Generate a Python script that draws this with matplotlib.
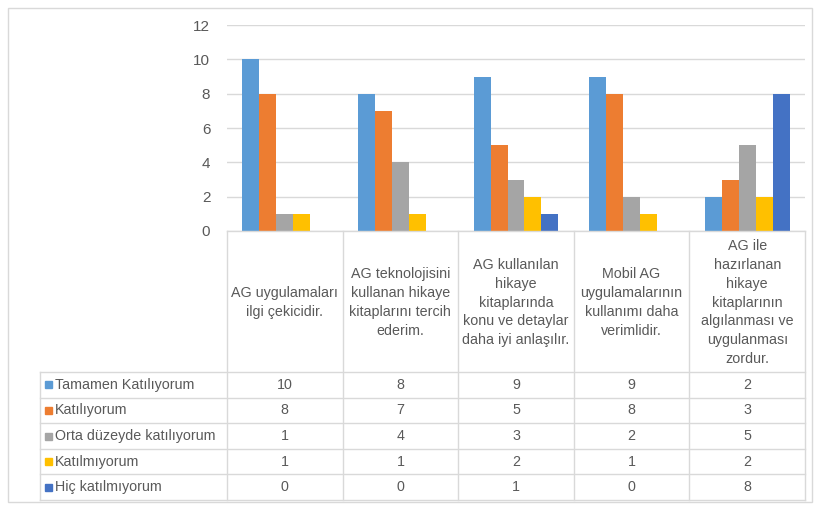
import matplotlib.pyplot as plt
from matplotlib import font_manager
from matplotlib.patches import Rectangle

categories = ['AG uygulamaları\nilgi çekicidir.',
              'AG teknolojisini\nkullanan hikaye\nkitaplarını tercih\nederim.',
              'AG kullanılan\nhikaye\nkitaplarında\nkonu ve detaylar\ndaha iyi anlaşılır.',
              'Mobil AG\nuygulamalarının\nkullanımı daha\nverimlidir.',
              'AG ile\nhazırlanan\nhikaye\nkitaplarının\nalgılanması ve\nuygulanması\nzordur.']
series = ['Tamamen Katılıyorum', 'Katılıyorum', 'Orta düzeyde katılıyorum',
          'Katılmıyorum', 'Hiç katılmıyorum']
tamamen = [10, 8, 9, 9, 2]
katiliyorum = [8, 7, 5, 8, 3]
orta = [1, 4, 3, 2, 5]
katilmiyorum = [1, 1, 2, 1, 2]
hic = [0, 0, 1, 0, 8]
values = [tamamen, katiliyorum, orta, katilmiyorum, hic]
colors = ['#5B9BD5', '#ED7D31', '#A5A5A5', '#FFC000', '#4472C4']

names = {f.name for f in font_manager.fontManager.ttflist}
fam = 'Liberation Sans Narrow' if 'Liberation Sans Narrow' in names else 'Liberation Sans'
plt.rcParams['font.family'] = [fam, 'DejaVu Sans']
txt = '#595959'
line = '#D9D9D9'

W, H = 814, 509
fig = plt.figure(figsize=(W / 100, H / 100), dpi=100)

def rect(x0, y0, x1, y1):
    return [x0 / W, 1 - y1 / H, (x1 - x0) / W, (y1 - y0) / H]

# outer frame
fig.add_artist(Rectangle((8 / W, 1 - 502 / H), 804 / W, 494 / H, transform=fig.transFigure,
                         fill=False, edgecolor=line, lw=1))

# bar chart
ax = fig.add_axes(rect(227, 25, 805, 231))
n = len(series)
bw = 1 / (n + 1.82)
for k, (vals, c) in enumerate(zip(values, colors)):
    xs = [i + 0.5 + (k - (n - 1) / 2) * bw for i in range(len(vals))]
    ax.bar(xs, vals, width=bw, color=c, zorder=3)
ax.set_xlim(0, 5)
ax.set_ylim(0, 12)
ax.set_yticks(range(0, 13, 2))
ax.tick_params(axis='y', length=0, labelsize=11, labelcolor=txt, pad=12)
ax.set_xticks([])
ax.grid(axis='y', color=line, lw=1, zorder=0)
for s in ax.spines.values():
    s.set_visible(False)
ax.patch.set_alpha(0)

# data table
hx = 187 / 115.6
tax = fig.add_axes(rect(40, 231, 805, 500))
tax.set_xlim(-hx, 5)
tax.set_ylim(269, 0)
tax.axis('off')
head = 141
rh = (269 - head) / n
fs = 10.3
# vertical lines
for i in range(6):
    tax.plot([i, i], [0, 269], color=line, lw=1, clip_on=False)
tax.plot([-hx, -hx], [head, 269], color=line, lw=1, clip_on=False)
tax.plot([0, 5], [0, 0], color=line, lw=1, clip_on=False)
for r in range(n + 1):
    tax.plot([-hx, 5], [head + r * rh] * 2, color=line, lw=1, clip_on=False)
for i, cat in enumerate(categories):
    tax.text(i + 0.5, head / 2 + 1, cat, ha='center', va='center', fontsize=fs,
             color=txt, linespacing=1.45)
for r, (name, vals, c) in enumerate(zip(series, values, colors)):
    yc = head + (r + 0.5) * rh
    tax.add_patch(Rectangle((-hx + 0.045, yc - 3.5), 0.06, 7, color=c, clip_on=False))
    tax.text(-hx + 0.13, yc, name, ha='left', va='center', fontsize=fs, color=txt)
    for i, v in enumerate(vals):
        tax.text(i + 0.5, yc, str(v), ha='center', va='center', fontsize=fs, color=txt)

fig.savefig('out.png', dpi=100)
